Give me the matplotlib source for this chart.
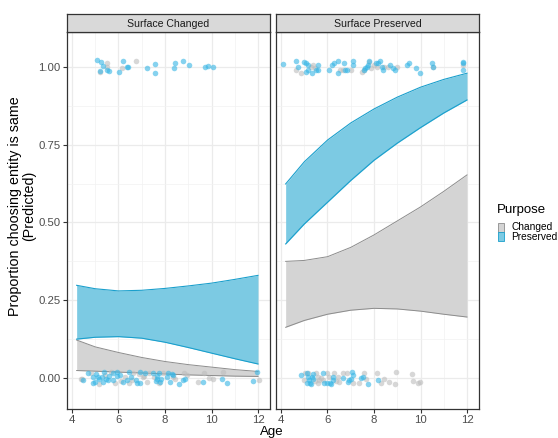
import numpy as np
import matplotlib.pyplot as plt
from matplotlib.patches import Rectangle

plt.rcParams['font.family'] = ['Liberation Sans', 'DejaVu Sans']

# ribbon grid (age) and predicted bands
age_grid = [4.2, 5, 6, 7, 8, 9, 10, 11, 12]

sc_pres_lo = [0.125, 0.131, 0.133, 0.128, 0.115, 0.098, 0.080, 0.062, 0.045]
sc_pres_hi = [0.298, 0.287, 0.280, 0.282, 0.288, 0.296, 0.305, 0.317, 0.330]
sc_chg_lo = [0.024, 0.022, 0.019, 0.016, 0.013, 0.010, 0.008, 0.006, 0.005]
sc_chg_hi = [0.122, 0.100, 0.082, 0.066, 0.053, 0.043, 0.035, 0.027, 0.021]

sp_pres_lo = [0.431, 0.495, 0.565, 0.635, 0.700, 0.755, 0.805, 0.852, 0.894]
sp_pres_hi = [0.624, 0.695, 0.765, 0.820, 0.865, 0.903, 0.935, 0.960, 0.980]
sp_chg_lo = [0.163, 0.185, 0.205, 0.218, 0.224, 0.222, 0.215, 0.205, 0.196]
sp_chg_hi = [0.375, 0.378, 0.390, 0.420, 0.460, 0.505, 0.550, 0.600, 0.653]

# observed (jittered) responses, Surface Changed panel
sc_top_pres_x = [5.09, 5.26, 5.32, 5.20, 5.49, 5.60, 6.21, 6.38, 6.43, 6.04, 7.24, 7.56,
                 7.56, 8.39, 8.44, 8.79, 9.02, 9.71, 9.85, 10.08]
sc_top_pres_y = [1.021, 1.016, 1.003, 0.988, 0.990, 0.986, 1.018, 1.001, 1.000, 0.984, 0.996, 1.011,
                 0.982, 0.996, 1.012, 1.019, 1.007, 1.001, 1.003, 0.999]
sc_top_chg_x = [5.49, 5.50, 5.20, 6.75, 6.14]
sc_top_chg_y = [1.014, 1.000, 0.985, 1.019, 0.997]

sc_bot_pres_x = [4.46, 4.69, 4.92, 5.03, 4.89, 5.00, 5.18, 5.28, 5.38, 5.35, 5.46, 5.61,
                 5.75, 5.78, 5.95, 5.95, 6.18, 6.38, 6.47, 6.55, 6.75, 6.81, 6.92, 6.92,
                 7.13, 7.47, 7.64, 7.67, 7.73, 7.78, 7.84, 8.07, 8.13, 8.22, 8.30, 8.36,
                 8.59, 8.79, 8.87, 9.65, 10.45, 10.65, 11.80, 11.97, 5.10, 5.55, 6.05, 7.60]
sc_bot_pres_y = [-0.006, 0.017, 0.004, 0.013, -0.015, -0.012, -0.004, 0.004, 0.018, -0.013, -0.004, 0.006,
                 0.015, -0.006, 0.020, 0.006, -0.012, -0.006, 0.020, 0.004, -0.006, -0.015, 0.020, -0.017,
                 0.015, 0.017, -0.004, 0.006, 0.015, -0.013, -0.004, 0.004, 0.015, -0.012, 0.013, 0.009,
                 -0.019, -0.006, -0.002, -0.013, -0.004, -0.015, -0.009, 0.018, 0.002, -0.008, 0.010, -0.010]
sc_bot_chg_x = [4.37, 4.45, 4.83, 5.18, 5.66, 5.85, 6.09, 6.29, 6.44, 6.64, 6.87, 7.04,
                 7.24, 7.33, 7.53, 7.76, 7.90, 8.33, 8.44, 8.82, 8.96, 9.42, 9.68, 9.88,
                 10.08, 10.48, 12.06, 5.40, 6.60, 7.10]
sc_bot_chg_y = [-0.004, -0.004, 0.017, -0.019, 0.018, -0.015, -0.010, 0.004, -0.017, 0.017, 0.013, 0.002,
                 -0.012, 0.017, 0.004, -0.017, 0.015, 0.002, -0.004, 0.015, 0.009, -0.013, 0.015, -0.001,
                 -0.002, 0.020, -0.006, 0.010, -0.008, 0.008]

# Surface Preserved panel
sp_top_pres_x = [4.09, 4.66, 4.75, 5.00, 5.07, 5.14, 5.07, 5.18, 5.35, 5.57, 5.61, 5.50,
                 6.08, 6.19, 6.29, 6.44, 6.44, 6.72, 6.77, 6.82, 7.08, 7.08, 7.55, 7.63,
                 7.69, 7.73, 7.78, 8.07, 8.17, 8.27, 8.35, 8.38, 8.67, 8.81, 8.89, 9.42,
                 9.51, 9.82, 9.97, 10.49, 10.52, 11.81, 11.84, 11.81]
sp_top_pres_y = [1.010, 1.020, 1.001, 1.016, 1.012, 1.006, 0.985, 0.990, 0.982, 1.006, 0.990, 0.990,
                 0.990, 1.006, 1.012, 1.020, 0.982, 1.012, 0.990, 0.990, 1.020, 1.006, 0.990, 0.996,
                 1.001, 1.006, 1.020, 1.012, 1.012, 1.020, 1.001, 0.990, 1.006, 0.996, 0.990, 1.006,
                 1.012, 0.996, 0.982, 1.012, 1.001, 1.016, 1.012, 0.990]
sp_top_chg_x = [4.66, 4.86, 5.28, 5.38, 5.47, 6.54, 6.65, 7.03, 7.49, 7.59, 7.80, 7.88,
                8.02, 8.12, 8.45, 8.60, 9.00, 10.55, 11.84]
sp_top_chg_y = [0.990, 0.982, 1.001, 1.006, 0.996, 0.990, 0.990, 0.990, 0.985, 0.990, 1.016, 0.996,
                1.006, 1.001, 1.001, 1.001, 1.001, 1.001, 1.006]

sp_bot_pres_x = [4.85, 5.10, 5.18, 5.21, 5.10, 5.24, 5.30, 5.36, 5.39, 5.33, 5.82, 5.86,
                 6.00, 6.10, 6.15, 6.22, 6.25, 6.65, 6.88, 6.94, 7.01, 7.06, 7.11, 7.45,
                 7.52, 7.73, 8.17]
sp_bot_pres_y = [0.010, 0.015, 0.004, -0.006, -0.015, -0.017, -0.019, -0.004, 0.013, 0.004, 0.015, -0.015,
                 -0.015, -0.017, -0.020, -0.006, 0.004, -0.001, -0.012, -0.006, -0.004, 0.020, 0.010, -0.001,
                 0.004, -0.019, -0.006]
sp_bot_chg_x = [5.00, 5.04, 5.18, 5.50, 5.57, 5.64, 5.57, 5.72, 5.79, 5.96, 6.05, 6.29,
                6.36, 6.44, 6.65, 6.82, 7.08, 7.37, 7.59, 7.66, 8.12, 8.31, 8.45, 8.64,
                8.93, 8.90, 9.65, 9.68, 9.90, 9.97, 5.45, 6.50]
sp_bot_chg_y = [-0.006, 0.015, 0.017, 0.017, 0.004, -0.006, -0.015, -0.001, -0.006, 0.015, 0.002, 0.017,
                -0.009, 0.004, 0.017, 0.015, -0.017, -0.015, 0.015, -0.004, 0.017, -0.015, -0.004, -0.012,
                0.020, -0.020, 0.013, -0.009, -0.017, -0.012, -0.010, -0.012]

panel_titles = ['Surface Changed', 'Surface Preserved']
legend_labels = ['Changed', 'Preserved']

blue_fill = '#7ccae3'
blue_line = '#1a9fcc'
blue_pt = '#35b5e5'
gray_fill = '#d4d4d4'
gray_line = '#8c8c8c'
gray_pt = '#bdbdbd'

W, H = 558, 438
fig = plt.figure(figsize=(W / 100, H / 100), dpi=100)

panels = [
    (67, sc_chg_lo, sc_chg_hi, sc_pres_lo, sc_pres_hi,
     (sc_top_chg_x + sc_bot_chg_x, sc_top_chg_y + sc_bot_chg_y),
     (sc_top_pres_x + sc_bot_pres_x, sc_top_pres_y + sc_bot_pres_y)),
    (276, sp_chg_lo, sp_chg_hi, sp_pres_lo, sp_pres_hi,
     (sp_top_chg_x + sp_bot_chg_x, sp_top_chg_y + sp_bot_chg_y),
     (sp_top_pres_x + sp_bot_pres_x, sp_top_pres_y + sp_bot_pres_y)),
]

top_px, bot_px, pw = 32, 409, 203
for i, (left_px, c_lo, c_hi, p_lo, p_hi, chg_pts, pres_pts) in enumerate(panels):
    ax = fig.add_axes([left_px / W, (H - bot_px) / H, pw / W, (bot_px - top_px) / H])
    ax.set_xlim(3.785, 12.516)
    ax.set_ylim(-0.0997, 1.1125)
    ax.set_xticks([4, 6, 8, 10, 12])
    ax.set_xticks([5, 7, 9, 11], minor=True)
    ax.set_yticks([0, 0.25, 0.5, 0.75, 1.0])
    ax.set_yticks([0.125, 0.375, 0.625, 0.875], minor=True)
    ax.grid(True, which='major', color='#ebebeb', lw=0.9)
    ax.grid(True, which='minor', color='#f2f2f2', lw=0.5)
    ax.set_axisbelow(True)
    for s in ax.spines.values():
        s.set_color('#333333')
        s.set_linewidth(0.9)
    ax.tick_params(which='minor', length=0)
    ax.tick_params(which='major', length=3, color='#333333', labelsize=8.2, labelcolor='#4d4d4d', pad=1.5)
    if i == 0:
        ax.set_yticklabels(['0.00', '0.25', '0.50', '0.75', '1.00'])
    else:
        ax.tick_params(axis='y', length=0, labelleft=False)

    # ribbons
    ax.fill_between(age_grid, c_lo, c_hi, color=gray_fill, lw=0, zorder=2)
    ax.plot(age_grid, c_lo, color=gray_line, lw=0.7, zorder=3)
    ax.plot(age_grid, c_hi, color=gray_line, lw=0.7, zorder=3)
    ax.fill_between(age_grid, p_lo, p_hi, color=blue_fill, lw=0, zorder=2)
    ax.plot(age_grid, p_lo, color=blue_line, lw=0.8, zorder=3)
    ax.plot(age_grid, p_hi, color=blue_line, lw=0.8, zorder=3)

    # points
    ax.scatter(chg_pts[0], chg_pts[1], s=16, color=gray_pt, alpha=0.6, lw=0, zorder=4)
    ax.scatter(pres_pts[0], pres_pts[1], s=16, color=blue_pt, alpha=0.6, lw=0, zorder=4)

    # strip
    sax = fig.add_axes([left_px / W, (H - top_px) / H, pw / W, 18 / H])
    sax.set_xticks([])
    sax.set_yticks([])
    sax.set_facecolor('#d9d9d9')
    for s in sax.spines.values():
        s.set_color('#333333')
        s.set_linewidth(0.9)
    sax.text(0.5, 0.45, panel_titles[i], ha='center', va='center', fontsize=7.6, color='#1a1a1a',
             transform=sax.transAxes)

fig.text(22 / W, 232 / H, 'Proportion choosing entity is same\n(Predicted)', rotation=90,
         ha='center', va='center', fontsize=10.3, linespacing=1.0)
fig.text(272 / W, 1 - 435.5 / H, 'Age', ha='center', va='baseline', fontsize=9.5)

# legend
fig.text(497 / W, 1 - 210 / H, 'Purpose', ha='left', va='center', fontsize=9.5)
key_cols = [(gray_fill, gray_line, gray_pt), (blue_fill, blue_line, blue_pt)]
for j, lab in enumerate(legend_labels):
    yc = 227 + j * 9.5
    fig.patches.append(Rectangle((498 / W, 1 - (yc + 4.5) / H), 6 / W, 9 / H, transform=fig.transFigure,
                                 facecolor=key_cols[j][0], edgecolor=key_cols[j][1], lw=0.6))
    fig.text(511 / W, 1 - yc / H, lab, ha='left', va='center', fontsize=7.3)

fig.savefig('out.png', dpi=100)
